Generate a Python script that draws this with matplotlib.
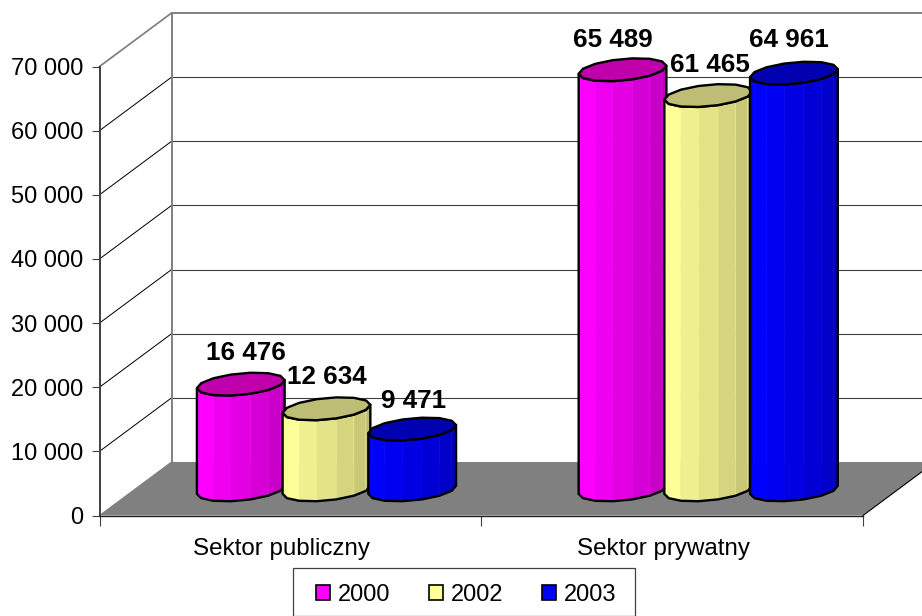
import numpy as np
import matplotlib
matplotlib.use('Agg')
import matplotlib.pyplot as plt
from matplotlib.patches import Polygon, Rectangle
from matplotlib.transforms import ScaledTranslation

categories = ['Sektor publiczny', 'Sektor prywatny']
years = ['2000', '2002', '2003']
values_2000 = [16476, 65489]
values_2002 = [12634, 61465]
values_2003 = [9471, 64961]
y_ticks = [0, 10000, 20000, 30000, 40000, 50000, 60000, 70000]

# wall depth and cylinder shape, in axis units
DEPTH_X = 0.1887
DEPTH_Y = 8340
BAR_STEP = 0.2245
BAR_SHIFT = 0.004
BAR_DEPTH = 0.48
RADIUS_X = 0.1075
SHEAR_X = 0.0406
RADIUS_Y = 1793
FACETS = 14

colors = ['#ff00ff', '#ffff99', '#0000ff']
top_colors = ['#bf00ab', '#bdbd75', '#0000b0']
# label offsets from the cylinder top in px, per series/category
label_shift = [[5, -9.5], [0, 1.5], [1.5, -4.5]]
label_lift = [[31, 30], [32, 31], [28, 33]]

plt.rcParams['font.family'] = ['Liberation Sans', 'DejaVu Sans']
W, H = 922, 616


def fmt(v):
    return '{:,}'.format(v).replace(',', ' ')


def shade(color, k):
    rgb = np.array(matplotlib.colors.to_rgb(color))
    return tuple(rgb * k)


def draw_cylinder(ax, xc, val, color, top_color, z):
    t0 = np.arctan2(SHEAR_X, RADIUS_X)
    t = t0 + 2 * np.pi * np.arange(FACETS + 1) / FACETS
    ex = xc + BAR_DEPTH * DEPTH_X + RADIUS_X * np.cos(t) + SHEAR_X * np.sin(t)
    ey = BAR_DEPTH * DEPTH_Y + RADIUS_Y * np.sin(t)
    front = range(FACETS // 2, FACETS)
    for n, k in enumerate(front):
        f = n / (FACETS / 2 - 1)
        c = shade(color, 1 - 0.27 * max(0, f - 0.15) / 0.85)
        pts = [(ex[k], ey[k]), (ex[k + 1], ey[k + 1]),
               (ex[k + 1], ey[k + 1] + val), (ex[k], ey[k] + val)]
        ax.add_patch(Polygon(pts, closed=True, facecolor=c, edgecolor=shade(color, 1 - 0.1 * f) if n else c,
                             linewidth=0.4, clip_on=False, zorder=z))
    idx = np.arange(FACETS // 2, FACETS + 1)
    side = list(zip(ex[idx], ey[idx])) + list(zip(ex[idx[::-1]], ey[idx[::-1]] + val))
    ax.add_patch(Polygon(side, closed=True, fill=False, edgecolor='black', linewidth=1.7,
                         joinstyle='round', clip_on=False, zorder=z + 0.1))
    ax.add_patch(Polygon(list(zip(ex[:-1], ey[:-1] + val)), closed=True, facecolor=top_color,
                         edgecolor='black', linewidth=1.7, joinstyle='round', clip_on=False, zorder=z + 0.2))


fig = plt.figure(figsize=(W / 100, H / 100), dpi=100, facecolor='white')
ax = fig.add_axes([99.5 / W, (H - 515.5) / H, 763.5 / W, 449 / H])
ax.set_xlim(0, 2)
ax.set_ylim(0, 70000)
ax.patch.set_visible(False)

# walls and floor
ax.add_patch(Polygon([(0, 0), (2, 0), (2 + DEPTH_X, DEPTH_Y), (DEPTH_X, DEPTH_Y)], closed=True,
                     facecolor='#808080', edgecolor='none', clip_on=False, zorder=1))
for v in y_ticks[1:]:
    gc = '#808080' if v == y_ticks[-1] else '#404040'
    dc = '#808080' if v == y_ticks[-1] else 'black'
    lw = 1.4 if v == y_ticks[-1] else 0.8
    ax.plot([DEPTH_X, 2 + DEPTH_X], [v + DEPTH_Y, v + DEPTH_Y], color=gc, lw=lw, clip_on=False, zorder=1)
    ax.plot([0, DEPTH_X], [v, v + DEPTH_Y], color=dc, lw=lw * 0.9, clip_on=False, zorder=1)
ax.plot([DEPTH_X, DEPTH_X], [DEPTH_Y, 70000 + DEPTH_Y], color='#808080', lw=1.4, clip_on=False, zorder=1)
ax.plot([0, DEPTH_X], [0, DEPTH_Y], color='#808080', lw=0.8, clip_on=False, zorder=1)
ax.plot([2, 2 + DEPTH_X], [0, DEPTH_Y], color='black', lw=0.8, clip_on=False, zorder=1)

# cylinders, left to right so each one overlaps the previous
series = [values_2000, values_2002, values_2003]
z = 3
for c in range(len(categories)):
    for s, vals in enumerate(series):
        xc = c + 0.5 + BAR_SHIFT + (s - 1) * BAR_STEP
        draw_cylinder(ax, xc, vals[c], colors[s], top_colors[s], z)
        z += 1
        ax.annotate(fmt(vals[c]), (xc + BAR_DEPTH * DEPTH_X, vals[c] + BAR_DEPTH * DEPTH_Y),
                    xytext=(label_shift[s][c] * 0.72, label_lift[s][c] * 0.72), textcoords='offset points',
                    ha='center', va='center', fontsize=18.7, fontweight='bold', annotation_clip=False, zorder=50)

ax.spines['top'].set_visible(False)
ax.spines['right'].set_visible(False)
ax.spines['left'].set_color('#404040')
ax.spines['left'].set_linewidth(1.4)
ax.spines['bottom'].set_color('#202020')
ax.spines['bottom'].set_linewidth(1.0)

ax.set_yticks(y_ticks)
ax.set_yticklabels([fmt(v) for v in y_ticks], fontsize=17)
ax.tick_params(axis='y', length=6, width=0.8, color='#404040', pad=5.5)
ax.set_xticks([0, 1, 2])
ax.set_xticklabels(['', '', ''])
ax.tick_params(axis='x', which='major', length=7, width=0.8, color='#404040')
ax.set_xticks([0.5, 1.5], minor=True)
ax.set_xticklabels(categories, minor=True, fontsize=17.4)
ax.tick_params(axis='x', which='minor', length=0, pad=16)
# category labels sit a little left of the category centre
for lab in ax.get_xticklabels(minor=True):
    lab.set_transform(lab.get_transform() + ScaledTranslation(-8.5 / 100, 0, fig.dpi_scale_trans))

# legend
fig.patches.append(Rectangle((292.5 / W, (H - 615.5) / H), 342.5 / W, 48 / H, transform=fig.transFigure,
                             facecolor='white', edgecolor='#404040', linewidth=0.9, figure=fig))
handles = [Rectangle((0, 0), 1, 1, facecolor=col, edgecolor='black', linewidth=1.2) for col in colors]
fig.legend(handles, years, loc='center', bbox_to_anchor=(466 / W, (H - 595) / H), ncol=3, frameon=False,
           fontsize=17, handlelength=0.6, handleheight=0.6, handletextpad=0.32, columnspacing=1.65,
           borderpad=0, borderaxespad=0)

fig.savefig('out.png', dpi=100)
